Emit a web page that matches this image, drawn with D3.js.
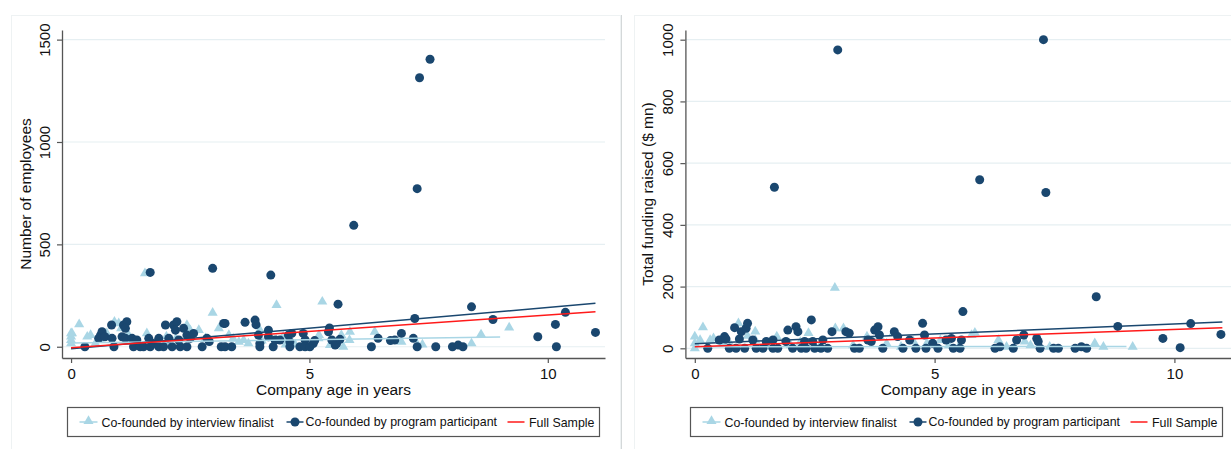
<!DOCTYPE html>
<html><head><meta charset="utf-8">
<script src="https://cdn.jsdelivr.net/npm/d3@7"></script>
<style>
html,body{margin:0;padding:0;background:#fff;}
svg text{font-family:"Liberation Sans",Arial,Helvetica,sans-serif;fill:#111;}
</style></head>
<body><svg id="c" width="1231" height="449"></svg>
<script>
// ---------------- DATA ----------------
const ageTicks = [0, 5, 10];
const empTicks = [0, 500, 1000, 1500];
const fundTicks = [0, 200, 400, 600, 800, 1000];
const xTitle = "Company age in years";
const empTitle = "Number of employees";
const fundTitle = "Total funding raised ($ mn)";
const legendLabels = ["Co-founded by interview finalist", "Co-founded by program participant", "Full Sample"];

// Left panel: employees
const empParAge = [0.29,0.62,0.65,0.58,0.71,0.85,0.9,0.86,1.07,1.1,1.17,1.14,1.14,1.28,1.31,1.38,1.45,1.52,1.63,1.66,1.73,1.84,1.84,1.94,1.98,2.05,2.12,2.15,2.22,2.19,2.26,2.29,2.36,2.43,2.43,2.5,2.57,2.75,2.85,2.9,3.15,3.2,3.23,3.23,3.37,3.65,3.86,3.88,3.93,4.14,4.14,3.96,3.96,4.24,4.28,4.38,4.56,4.59,4.59,4.63,4.8,4.87,4.91,4.91,5.01,5.08,5.11,5.4,5.42,5.47,5.54,5.57,5.64,6.3,6.44,6.7,6.79,6.93,7.18,7.21,7.26,7.65,8.0,8.12,8.22,8.4,8.85,9.79,10.16,10.18,10.37,11.0,1.66,2.97,4.19,5.6,5.93,7.26,7.31,7.53];
const empParVal = [0,57,73,41,49,106,0,41,49,106,122,90,41,41,0,33,0,0,41,0,16,41,0,0,106,41,0,106,122,81,33,0,90,57,0,41,65,0,41,25,0,114,114,0,0,119,130,108,57,81,49,16,0,0,33,33,57,24,0,65,0,65,33,0,0,16,30,73,92,33,8,16,36,0,41,30,33,65,41,138,0,0,0,8,0,195,133,49,109,0,168,70,363,383,350,208,593,772,1314,1404];
const empFinAge = [0,0,0,0,0.02,0.17,0.34,0.41,0.51,0.6,0.75,0.91,1.0,1.05,1.2,1.28,1.55,1.59,1.8,2.0,2.0,2.2,2.43,2.5,2.68,2.82,2.97,3.1,3.31,3.4,3.52,3.62,3.72,3.96,4.0,4.31,4.31,4.45,4.5,4.7,5.19,5.27,5.2,5.43,5.64,5.71,5.67,5.85,5.84,6.37,6.93,7.27,7.37,8.4,8.6,9.19];
const empFinVal = [65,49,33,16,65,109,49,57,16,33,65,122,114,90,60,24,358,65,10,8,50,40,106,80,81,41,166,90,57,40,24,33,16,81,30,203,33,50,10,10,41,220,57,8,33,0,57,73,33,73,24,8,11,16,60,94];
const fitAgeAll = [0, 11.0];
const fitAgeFin = [0, 9.0];
const empFitAll = [-5, 171];
const empFitPar = [-10, 212];
const empFitFin = [18, 47];

// Right panel: funding
const fundParAge = [0.27,0.51,0.62,0.65,0.83,0.72,0.86,0.93,0.97,1.07,1.1,1.04,1.21,1.28,1.42,1.49,1.63,1.63,1.73,1.9,1.94,2.04,2.11,2.15,2.22,2.29,2.32,2.43,2.46,2.5,2.63,2.67,2.77,2.86,3.15,3.22,3.33,3.43,3.61,3.68,3.75,3.82,3.85,3.92,4.16,4.23,4.34,4.48,4.61,4.75,4.79,4.82,4.96,5.07,5.24,5.35,5.39,5.53,5.56,5.59,6.26,6.36,6.64,6.71,6.86,7.13,7.16,7.2,7.48,7.58,7.93,8.06,8.17,8.37,8.82,9.76,10.12,10.34,10.97,1.66,2.98,5.94,7.27,7.32];
const fundParVal = [0,27,38,30,67,0,0,30,54,65,81,0,27,0,0,22,0,27,0,22,59,0,70,54,0,22,0,92,22,0,0,27,0,54,54,49,0,0,27,22,59,70,43,0,54,38,0,27,0,81,43,0,16,0,27,32,0,0,27,119,0,5,0,27,43,32,22,0,0,0,0,5,0,167,71,32,2,80,45,522,967,546,1000,505];
const fundFinAge = [0,0,0,0.11,0.17,0.32,0.39,0.6,0.75,0.91,1.1,1.26,1.26,1.5,1.71,2.0,2.2,2.37,2.6,2.92,2.93,3.1,3.3,3.59,3.86,4.0,4.14,4.3,4.56,4.84,5.12,5.3,5.5,5.77,5.84,6.33,6.5,6.88,7.0,7.4,8.34,8.52,9.13];
const fundFinVal = [38,16,0,27,68,27,32,16,10,81,40,54,27,5,38,10,20,49,5,196,65,65,10,38,38,15,49,5,22,16,27,10,5,43,50,27,5,22,10,5,16,5,5];
const fundFitAll = [5, 67];
const fundFitPar = [15, 85];
const fundFitFin = [5, 6];

// ---------------- DRAWING ----------------
const NAVY = "#1a476f", LTBLUE = "#a9d6e5", RED = "#ff1a1a", GRID = "#e6eff2", AXIS = "#555";
const svg = d3.select("#c");

// panel frames
svg.append("rect").attr("x",11.5).attr("y",15.5).attr("width",609).attr("height",440)
  .attr("fill","none").attr("stroke","#eef2f3");
svg.append("line").attr("x1",621.5).attr("x2",621.5).attr("y1",15).attr("y2",449).attr("stroke","#d4d8d9");
svg.append("rect").attr("x",634.5).attr("y",15.5).attr("width",600).attr("height",440)
  .attr("fill","none").attr("stroke","#eef2f3");

function drawPanel(p){
  const g = svg.append("g");
  const x = d3.scaleLinear().domain(p.xDomain).range(p.xRange);
  const y = d3.scaleLinear().domain(p.yDomain).range(p.yRange);
  // grid
  g.append("g").selectAll("line").data(p.yTicks).join("line")
    .attr("x1",p.xRange[0]).attr("x2",p.xRange[1])
    .attr("y1",d=>y(d)).attr("y2",d=>y(d))
    .attr("stroke",GRID).attr("stroke-width",1.2);
  // axes
  const ax = g.append("g").attr("transform",`translate(0,${p.yRange[0]})`)
    .call(d3.axisBottom(x).tickValues(ageTicks).tickFormat(d3.format("d")).tickSize(5).tickSizeOuter(0));
  ax.selectAll("text").attr("y",20.5).attr("dy",0).style("font-size","15px").style("fill","#111");
  const ay = g.append("g").attr("transform",`translate(${p.xRange[0]},0)`)
    .call(d3.axisLeft(y).tickValues(p.yTicks).tickFormat(d3.format("d")).tickSize(5).tickSizeOuter(0));
  ay.selectAll("text").attr("transform","rotate(-90)").attr("x",0).attr("y",-12.5).attr("dy",0)
    .attr("text-anchor","middle").style("font-size","15px").style("fill","#111");
  [ax,ay].forEach(a=>{a.select(".domain").attr("stroke",AXIS).attr("stroke-width",1.3);
    a.selectAll(".tick line").attr("stroke",AXIS).attr("stroke-width",1.2);});
  // titles
  g.append("text").attr("x",(p.xRange[0]+p.xRange[1])/2).attr("y",395)
    .attr("text-anchor","middle").style("font-size","15.5px").text(xTitle);
  g.append("text").attr("transform",`translate(${p.yTitleX},${(p.yRange[0]+p.yRange[1])/2}) rotate(-90)`)
    .attr("text-anchor","middle").style("font-size","15.5px").text(p.yTitle);
  // triangles
  const tri = d3.symbol().type(d3.symbolTriangle).size(44);
  g.append("g").selectAll("path").data(p.finAge.map((a,i)=>[a,p.finVal[i]])).join("path")
    .attr("d",tri).attr("transform",d=>`translate(${x(d[0])},${y(d[1])})`).attr("fill",LTBLUE);
  // circles
  g.append("g").selectAll("circle").data(p.parAge.map((a,i)=>[a,p.parVal[i]])).join("circle")
    .attr("cx",d=>x(d[0])).attr("cy",d=>y(d[1])).attr("r",4.5).attr("fill",NAVY);
  // fit lines
  const line = d3.line().x(d=>x(d[0])).y(d=>y(d[1]));
  const fits = [[fitAgeFin,p.fitFin,LTBLUE],[fitAgeAll,p.fitPar,NAVY],[fitAgeAll,p.fitAll,RED]];
  fits.forEach(([ages,vals,col])=>{
    g.append("path").datum(ages.map((a,i)=>[a,vals[i]])).attr("d",line)
      .attr("fill","none").attr("stroke",col).attr("stroke-width",1.5);
  });
  // legend
  const L = g.append("g").attr("transform",`translate(${p.legX},407.5)`);
  L.append("rect").attr("width",532).attr("height",29).attr("fill","#fff").attr("stroke","#555").attr("stroke-width",1.2);
  const cy = 14.5, ty = 19;
  L.append("line").attr("x1",12).attr("x2",30).attr("y1",cy).attr("y2",cy).attr("stroke",LTBLUE).attr("stroke-width",1.5);
  L.append("path").attr("d",tri).attr("transform",`translate(21,${cy-1})`).attr("fill",LTBLUE);
  L.append("text").attr("x",34).attr("y",ty).style("font-size","12.4px").text(legendLabels[0]);
  L.append("line").attr("x1",219).attr("x2",236).attr("y1",cy).attr("y2",cy).attr("stroke",NAVY).attr("stroke-width",1.5);
  L.append("circle").attr("cx",227.5).attr("cy",cy).attr("r",4.5).attr("fill",NAVY);
  L.append("text").attr("x",238).attr("y",ty-1).style("font-size","12.4px").text(legendLabels[1]);
  L.append("line").attr("x1",440).attr("x2",457).attr("y1",cy).attr("y2",cy).attr("stroke",RED).attr("stroke-width",1.5);
  L.append("text").attr("x",461.5).attr("y",ty).style("font-size","12.4px").text(legendLabels[2]);
}

drawPanel({xDomain:[-0.19,11.2], xRange:[62,605], yDomain:[-55,1547], yRange:[358,30],
  yTicks:empTicks, yTitle:empTitle, yTitleX:31,
  parAge:empParAge, parVal:empParVal, finAge:empFinAge, finVal:empFinVal,
  fitAll:empFitAll, fitPar:empFitPar, fitFin:empFitFin, legX:67.5});
drawPanel({xDomain:[-0.196,11.18], xRange:[685.4,1231], yDomain:[-31.4,1031.4], yRange:[358,30],
  yTicks:fundTicks, yTitle:fundTitle, yTitleX:652.5,
  parAge:fundParAge, parVal:fundParVal, finAge:fundFinAge, finVal:fundFinVal,
  fitAll:fundFitAll, fitPar:fundFitPar, fitFin:fundFitFin, legX:690.5});
</script></body></html>
